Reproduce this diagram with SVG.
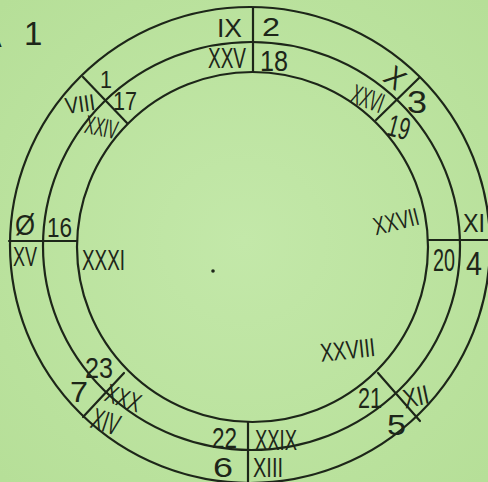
<svg xmlns="http://www.w3.org/2000/svg" width="488" height="482" viewBox="0 0 488 482">
<defs>
<radialGradient id="paper" cx="0.5" cy="0.5" r="0.7">
<stop offset="0" stop-color="#c3e8a9"/>
<stop offset="1" stop-color="#b6df98"/>
</radialGradient>
<style>
.ring{fill:none;stroke:#1d2619;stroke-width:2.2}
.div{stroke:#1d2619;stroke-width:2.2;stroke-linecap:round}
.t{font-family:"Liberation Sans",Arial,sans-serif;fill:#1d2619;font-weight:normal}
</style>
</defs>
<rect x="0" y="0" width="488" height="482" fill="url(#paper)"/>
<g id="rings">
<ellipse class="ring" cx="250" cy="245" rx="240" ry="238"/>
<ellipse class="ring" cx="251.5" cy="246" rx="208.5" ry="204"/>
<ellipse class="ring" cx="252.5" cy="247" rx="175.5" ry="175"/>
</g>
<g id="connectors">
<line class="div" x1="253" y1="8" x2="253" y2="72"/>
<line class="div" x1="248" y1="422" x2="248" y2="484"/>
<line class="div" x1="9" y1="241" x2="77" y2="241"/>
<line class="div" x1="428" y1="240" x2="489" y2="240"/>
<line class="div" x1="83" y1="77" x2="127" y2="123"/>
<line class="div" x1="419" y1="78" x2="376" y2="120"/>
<line class="div" x1="378" y1="373" x2="420" y2="421"/>
<line class="div" x1="124" y1="373" x2="83" y2="417"/>
</g>
<circle id="center-dot" cx="213" cy="271" r="1.8" fill="#1d2619"/>
<g id="title"><text class="t" x="-17" y="47" font-size="28">A<tspan x="24" y="45" font-size="33">1</tspan></text></g>
<g id="outer-labels">
<text class="t" x="217" y="37" font-size="26" textLength="25" lengthAdjust="spacingAndGlyphs">IX</text>
<text class="t" x="262" y="36" font-size="25" textLength="18" lengthAdjust="spacingAndGlyphs">2</text>
<text class="t" x="100" y="88" font-size="24" textLength="12" lengthAdjust="spacingAndGlyphs">1</text>
<text class="t" x="65" y="112" font-size="23" textLength="30" lengthAdjust="spacingAndGlyphs" transform="rotate(-8 80 104)">VIII</text>
<text class="t" x="386" y="88" font-size="30" textLength="18" lengthAdjust="spacingAndGlyphs" transform="rotate(38 395 78)">X</text>
<text class="t" x="407" y="113" font-size="32" textLength="20" lengthAdjust="spacingAndGlyphs">3</text>
<text class="t" x="463" y="232" font-size="26" textLength="22" lengthAdjust="spacingAndGlyphs">XI</text>
<text class="t" x="466" y="275" font-size="33" textLength="16" lengthAdjust="spacingAndGlyphs">4</text>
<text class="t" x="403" y="406" font-size="27" textLength="26" lengthAdjust="spacingAndGlyphs" transform="rotate(-12 416 397)">XII</text>
<text class="t" x="387" y="435" font-size="30" textLength="19" lengthAdjust="spacingAndGlyphs">5</text>
<text class="t" x="213" y="477" font-size="28" textLength="20" lengthAdjust="spacingAndGlyphs">6</text>
<text class="t" x="253" y="477" font-size="27" textLength="30" lengthAdjust="spacingAndGlyphs">XIII</text>
<text class="t" x="70" y="402" font-size="30" textLength="18" lengthAdjust="spacingAndGlyphs">7</text>
<text class="t" x="92" y="432" font-size="30" textLength="28" lengthAdjust="spacingAndGlyphs" transform="rotate(18 106 421)">XIV</text>
<text class="t" x="15" y="235" font-size="29" textLength="20" lengthAdjust="spacingAndGlyphs">Ø</text>
<text class="t" x="13" y="266" font-size="28" textLength="24" lengthAdjust="spacingAndGlyphs">XV</text>
</g>
<g id="middle-labels">
<text class="t" x="47" y="237" font-size="28" textLength="25" lengthAdjust="spacingAndGlyphs">16</text>
<text class="t" x="113" y="110" font-size="26" textLength="24" lengthAdjust="spacingAndGlyphs">17</text>
<text class="t" x="260" y="71" font-size="29" textLength="28" lengthAdjust="spacingAndGlyphs">18</text>
<text class="t" x="388" y="138" font-size="31" textLength="22" lengthAdjust="spacingAndGlyphs" transform="rotate(15 399 127)">19</text>
<text class="t" x="433" y="271" font-size="31" textLength="22" lengthAdjust="spacingAndGlyphs">20</text>
<text class="t" x="358" y="408" font-size="29" textLength="24" lengthAdjust="spacingAndGlyphs">21</text>
<text class="t" x="212" y="448" font-size="30" textLength="25" lengthAdjust="spacingAndGlyphs">22</text>
<text class="t" x="85" y="378" font-size="30" textLength="28" lengthAdjust="spacingAndGlyphs">23</text>
<text class="t" x="85" y="136" font-size="26" textLength="33" lengthAdjust="spacingAndGlyphs" transform="rotate(12 101 127)">XXIV</text>
<text class="t" x="208" y="68" font-size="29" textLength="38" lengthAdjust="spacingAndGlyphs">XXV</text>
<text class="t" x="351" y="108" font-size="28" textLength="33" lengthAdjust="spacingAndGlyphs" transform="rotate(20 367 99)">XXVI</text>
<text class="t" x="373" y="230" font-size="25" textLength="46" lengthAdjust="spacingAndGlyphs" transform="rotate(-14 396 221)">XXVII</text>
<text class="t" x="320" y="359" font-size="26" textLength="55" lengthAdjust="spacingAndGlyphs" transform="rotate(-6 347 349)">XXVIII</text>
<text class="t" x="255" y="450" font-size="30" textLength="42" lengthAdjust="spacingAndGlyphs">XXIX</text>
<text class="t" x="105" y="407" font-size="26" textLength="36" lengthAdjust="spacingAndGlyphs" transform="rotate(20 123 399)">XXX</text>
<text class="t" x="82" y="270" font-size="29" textLength="43" lengthAdjust="spacingAndGlyphs">XXXI</text>
</g>
</svg>
